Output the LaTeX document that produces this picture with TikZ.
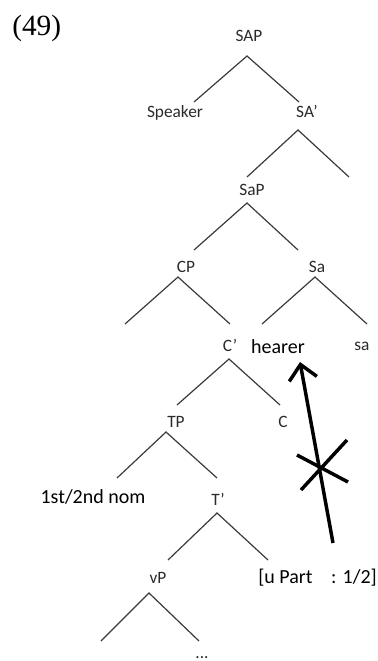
\documentclass[tikz,border=0pt]{standalone}
\usepackage{fontspec}
\setmainfont{Carlito}
\newfontfamily\numfont{Liberation Serif}
\usetikzlibrary{arrows.meta}
\definecolor{branch}{HTML}{3a3a3a}
\definecolor{label}{HTML}{2a2a2a}
\begin{document}
\begin{tikzpicture}[x=0.75pt,y=-0.75pt,
  every node/.style={anchor=base,inner sep=0pt},
  lab/.style={font=\fontsize{13}{15}\selectfont,text=label},
  big/.style={font=\fontsize{15}{18}\selectfont,text=black}]
\useasboundingbox (0,0) rectangle (378,661);
\node[anchor=base west,font=\numfont\fontsize{22}{26}\selectfont] (ex) at (12,35) {(49)};
% tree labels
\foreach \n/\x/\y/\t in {SAP/249/41/SAP,speaker/175/117/Speaker,SAbar/307/117/SA’,
   SaP/252/195/SaP,CP/186/272/CP,Sa/317/272/Sa,Cbar/230/351/C’,sahead/362/350/sa,
   TP/176/427/TP,C/283/427/C,Tbar/218/505/T’,vP/158/583/vP}
   \node[lab] (\n) at (\x,\y) {\t};
\node[lab] (dots) at (202,658) {...};
\node[big] (hearer) at (278,353) {hearer};
\node[big] (nom) at (93,503) {1st/2nd nom};
\node[big,anchor=base west] (upart) at (258,583) {[u Part\hspace{14pt}: 1/2]};
% branches
\foreach \n/\ax/\ay/\lx/\rx/\by in {SAP/247/56/194/299/102,SAbar/298/130/247/349/177,
   SaP/247/203/194/298/250,CP/178/277/125/230/324,Sa/315/277/262/367/324,
   Cbar/229/359/177/280/405,TP/166/432/117/217/478,Tbar/217/513/168/268/560,
   vP/149/593/101/199/641} {
   \coordinate (\n-a) at (\ax,\ay);
   \coordinate (\n-l) at (\lx,\by);
   \coordinate (\n-r) at (\rx,\by);
   \draw[branch,line width=0.9pt] (\n-l) -- (\n-a) -- (\n-r);}
% blocked movement
\coordinate (tail) at (333,543);
\coordinate (tip) at (300,362);
\coordinate (cross) at (321,468);
\draw[line width=2.6pt,-{Straight Barb[length=11pt,width=21pt]}] (tail) -- (tip);
\draw[line width=2.6pt] (cross) +(-24,-13) -- +(27,14)
   (cross) +(-20,22) -- +(26,-28);
\end{tikzpicture}
\end{document}
